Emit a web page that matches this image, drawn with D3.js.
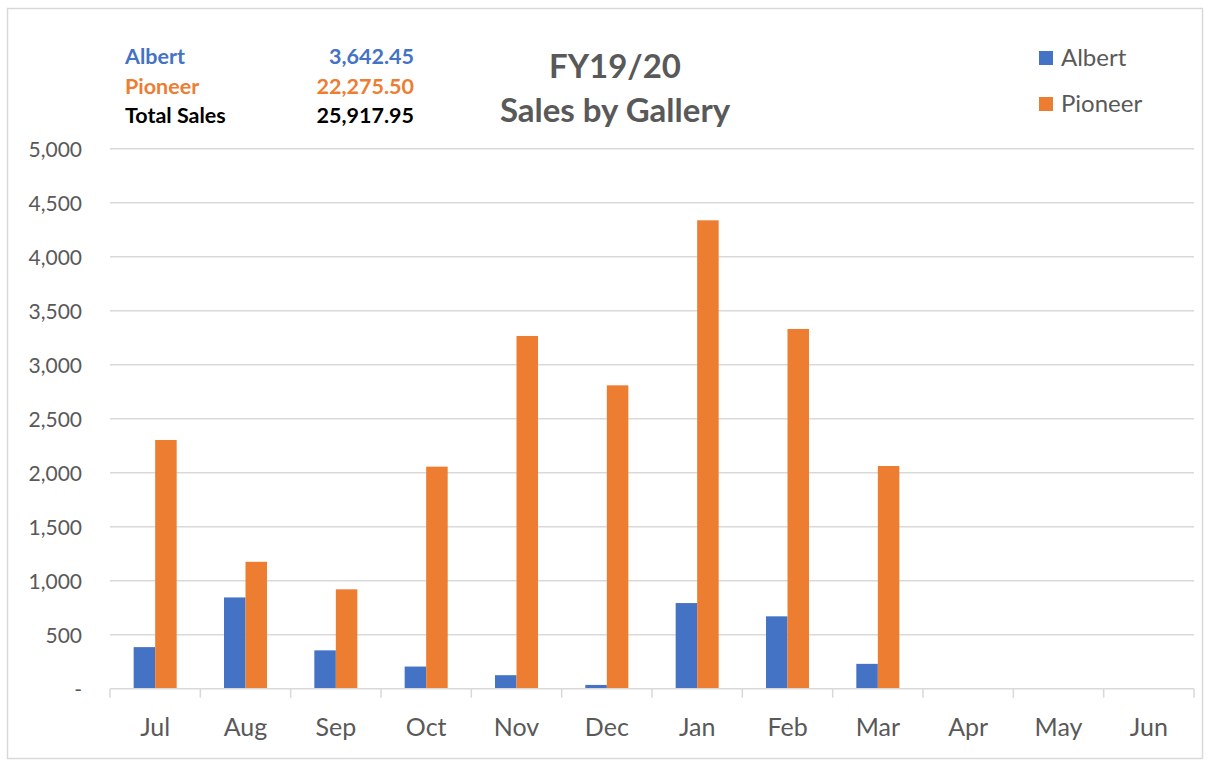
<!DOCTYPE html>
<html>
<head>
<meta charset="utf-8">
<script src="https://cdn.jsdelivr.net/npm/d3@7/dist/d3.min.js"></script>
<style>
  body { margin: 0; background: #fff; }
  svg { display: block; font-family: Lato, "Open Sans", sans-serif; }
</style>
</head>
<body>
<svg id="chart" width="1212" height="760"></svg>
<script>
// ---------------------------------------------------------------------------
// Data
// ---------------------------------------------------------------------------
const months  = ['Jul', 'Aug', 'Sep', 'Oct', 'Nov', 'Dec', 'Jan', 'Feb', 'Mar', 'Apr', 'May', 'Jun'];
const series  = ['Albert', 'Pioneer'];
const albert  = [385, 845, 355, 205, 125, 35, 793, 670, 230, 0, 0, 0];
const pioneer = [2303, 1175, 920, 2056, 3266, 2809, 4337, 3331, 2062, 0, 0, 0];
const yTicks  = [0, 500, 1000, 1500, 2000, 2500, 3000, 3500, 4000, 4500, 5000];
const summaryLabels = ['Albert', 'Pioneer', 'Total Sales'];
const summaryValues = ['3,642.45', '22,275.50', '25,917.95'];
const titleLines = ['FY19/20', 'Sales by Gallery'];

const COLORS = { Albert: '#4472C4', Pioneer: '#ED7D31' };
const TEXT_GREY = '#595959';
const FONT = 'Lato, "Open Sans", sans-serif';

// ---------------------------------------------------------------------------
// Layout
// ---------------------------------------------------------------------------
const svg = d3.select('#chart');
const M = { left: 110, right: 1194, top: 148.7, bottom: 688.7 };

// chart border
svg.append('rect')
  .attr('x', 7.5).attr('y', 8.5)
  .attr('width', 1195).attr('height', 750)
  .attr('fill', '#fff')
  .attr('stroke', '#d9d9d9')
  .attr('stroke-width', 1.5);

const x = d3.scaleBand()
  .domain(months)
  .range([M.left, M.right])
  .paddingInner(0)
  .paddingOuter(0);

// bars take ~48% of each category slot
const xs = d3.scaleBand()
  .domain(series)
  .range([0, x.bandwidth()])
  .paddingOuter(1.1)
  .paddingInner(0);

const y = d3.scaleLinear()
  .domain([0, 5000])
  .range([M.bottom, M.top]);

// Gridlines
svg.append('g')
  .selectAll('line')
  .data(yTicks.filter(d => d > 0))
  .join('line')
  .attr('x1', M.left).attr('x2', M.right)
  .attr('y1', d => y(d)).attr('y2', d => y(d))
  .attr('stroke', '#d9d9d9')
  .attr('stroke-width', 1.5);

// Y axis labels
const yAxis = svg.append('g')
  .attr('transform', `translate(${M.left - 28},0)`)
  .call(d3.axisLeft(y)
    .tickValues(yTicks)
    .tickSize(0)
    .tickPadding(0)
    .tickFormat(d => d === 0 ? '-' : d3.format(',')(d)))
  .attr('font-family', FONT);
yAxis.select('.domain').remove();
yAxis.selectAll('text')
  .attr('fill', TEXT_GREY)
  .attr('font-size', '21px')
  .attr('dy', '0.35em');

// Bars
const data = months.map((m, i) => ({ month: m, Albert: albert[i], Pioneer: pioneer[i] }));
svg.append('g')
  .selectAll('g')
  .data(data)
  .join('g')
  .attr('transform', d => `translate(${x(d.month)},0)`)
  .selectAll('rect')
  .data(d => series.map(s => ({ key: s, value: d[s] })))
  .join('rect')
  .attr('x', d => xs(d.key))
  .attr('width', xs.bandwidth())
  .attr('y', d => y(d.value))
  .attr('height', d => y(0) - y(d.value))
  .attr('fill', d => COLORS[d.key]);

// X axis
const xAxis = svg.append('g')
  .attr('transform', `translate(0,${M.bottom})`)
  .call(d3.axisBottom(x).tickSize(0).tickPadding(30))
  .attr('font-family', FONT);
xAxis.select('.domain')
  .attr('stroke', '#d9d9d9')
  .attr('stroke-width', 1.5)
  .attr('d', `M${M.left},0H${M.right}`);
xAxis.selectAll('text')
  .attr('fill', TEXT_GREY)
  .attr('font-size', '25px');

// category boundary ticks
svg.append('g')
  .selectAll('line')
  .data(months.concat(['end']))
  .join('line')
  .attr('x1', (d, i) => i < months.length ? x(d) : M.right)
  .attr('x2', (d, i) => i < months.length ? x(d) : M.right)
  .attr('y1', M.bottom)
  .attr('y2', M.bottom + 9)
  .attr('stroke', '#d9d9d9')
  .attr('stroke-width', 1.5);

// Title
svg.append('text')
  .attr('x', 615).attr('y', 78)
  .attr('text-anchor', 'middle')
  .attr('font-size', '33px')
  .attr('font-weight', 'bold')
  .attr('fill', TEXT_GREY)
  .selectAll('tspan')
  .data(titleLines)
  .join('tspan')
  .attr('x', 615)
  .attr('dy', (d, i) => i === 0 ? 0 : 44)
  .text(d => d);

// Summary table (top left)
const rowColors = [COLORS.Albert, COLORS.Pioneer, '#000'];
const summary = svg.append('g').attr('font-size', '21.5px').attr('font-weight', 'bold');
summary.selectAll('text.lbl')
  .data(summaryLabels)
  .join('text')
  .attr('class', 'lbl')
  .attr('x', 125)
  .attr('y', (d, i) => 64 + i * 29.5)
  .attr('fill', (d, i) => rowColors[i])
  .text(d => d);
summary.selectAll('text.val')
  .data(summaryValues)
  .join('text')
  .attr('class', 'val')
  .attr('x', 414)
  .attr('y', (d, i) => 64 + i * 29.5)
  .attr('text-anchor', 'end')
  .attr('fill', (d, i) => rowColors[i])
  .text(d => d);

// Legend
const legend = svg.append('g')
  .selectAll('g')
  .data(series)
  .join('g')
  .attr('transform', (d, i) => `translate(1039,${51 + i * 46})`);
legend.append('rect')
  .attr('width', 14).attr('height', 14)
  .attr('fill', d => COLORS[d]);
legend.append('text')
  .attr('x', 22).attr('y', 7)
  .attr('dy', '0.35em')
  .attr('font-size', '24px')
  .attr('fill', TEXT_GREY)
  .text(d => d);
</script>
</body>
</html>
